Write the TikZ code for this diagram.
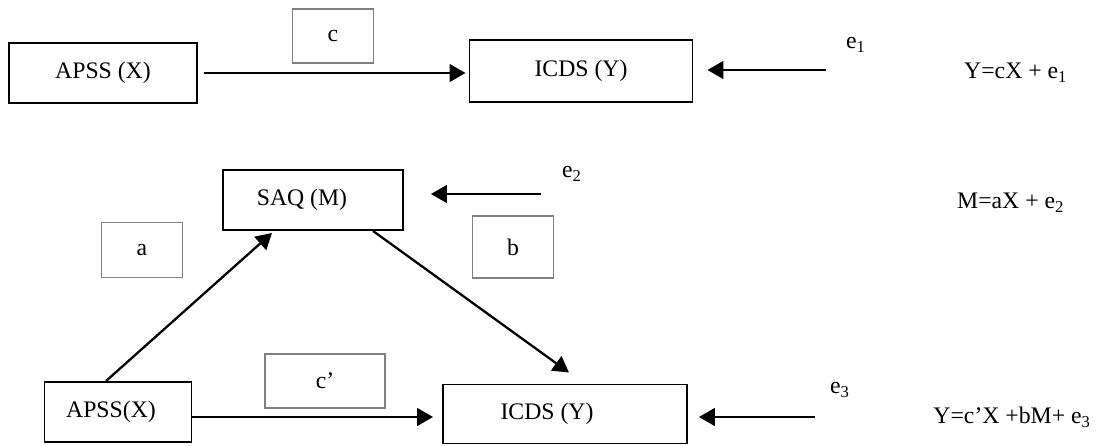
\documentclass[tikz,border=0pt]{standalone}
\usepackage{fontspec}
\setmainfont{Liberation Serif}
\usetikzlibrary{arrows.meta,positioning,calc}

\begin{document}
\begin{tikzpicture}[
        x=0.02cm, y=-0.02cm,
        font=\fontsize{13.5}{16}\selectfont,
        varbox/.style={rectangle, draw=black, line width=1.1pt, align=center},
        pathbox/.style={rectangle, draw=gray, line width=1.1pt, align=center},
        effect/.style={line width=1.3pt, -{Triangle[length=9pt,width=10pt]}}
    ]

    \useasboundingbox (0,0) rectangle (1099,446);

    % Total effect
    \node[varbox, minimum width=188*0.02cm, minimum height=60*0.02cm] (apssTop) at (103,73) {APSS (X)};
    \node[varbox, minimum width=223*0.02cm, minimum height=62*0.02cm] (icdsTop) at (581,71) {ICDS (Y)};
    \node[pathbox, minimum width=81*0.02cm, minimum height=54*0.02cm] (cTop) at (333,36) {c};
    \coordinate (e1src) at (826,70);
    \node (e1) at (856,45) {e\textsubscript{1}};
    \node[anchor=west] (eq1) at (958,73) {Y=cX + e\textsubscript{1}};

    \draw[effect, shorten <=6*0.02cm, shorten >=3*0.02cm] (apssTop.east) -- (apssTop.east -| icdsTop.west);
    \draw[effect, shorten >=14*0.02cm] (e1src) -- (e1src -| icdsTop.east);

    % Mediation
    \node[varbox, minimum width=180*0.02cm, minimum height=60*0.02cm] (saq) at (313,200) {SAQ (M)\hspace*{0.44cm}};
    \node[pathbox, minimum width=81*0.02cm, minimum height=55*0.02cm] (aPath) at (142,250) {a};
    \node[pathbox, minimum width=81*0.02cm, minimum height=62*0.02cm] (bPath) at (513,247) {b};
    \coordinate (e2src) at (541,194);
    \node (e2) at (572,174) {e\textsubscript{2}};
    \node[anchor=west] (eq2) at (951,203) {M=aX + e\textsubscript{2}};

    \node[varbox, minimum width=147*0.02cm, minimum height=60*0.02cm] (apssBot) at (118,412) {APSS(X)\hspace*{0.28cm}};
    \node[varbox, minimum width=244*0.02cm, minimum height=59*0.02cm] (icdsBot) at (565,414) {ICDS (Y)\hspace*{0.72cm}};
    \node[pathbox, minimum width=120*0.02cm, minimum height=54*0.02cm] (cPrime) at (325,381) {c’};
    \coordinate (e3src) at (815,417);
    \coordinate (cpsrc) at ($(apssBot.east)+(0,5)$);
    \node (e3) at (840,390) {e\textsubscript{3}};
    \node[anchor=east] (eq3) at (1097,417) {Y=c’X +bM+ e\textsubscript{3}};

    \draw[effect] ($(apssBot.north)+(-12,0)$) -- ($(saq.south)+(-41,2)$);
    \draw[effect] ($(saq.south)+(60,0)$) -- ($(icdsBot.north)+(4,-11)$);
    \draw[effect, shorten >=9*0.02cm] (cpsrc) -- (cpsrc -| icdsBot.west);
    \draw[effect, shorten >=27*0.02cm] (e2src) -- (e2src -| saq.east);
    \draw[effect, shorten >=11*0.02cm] (e3src) -- (e3src -| icdsBot.east);

\end{tikzpicture}
\end{document}
